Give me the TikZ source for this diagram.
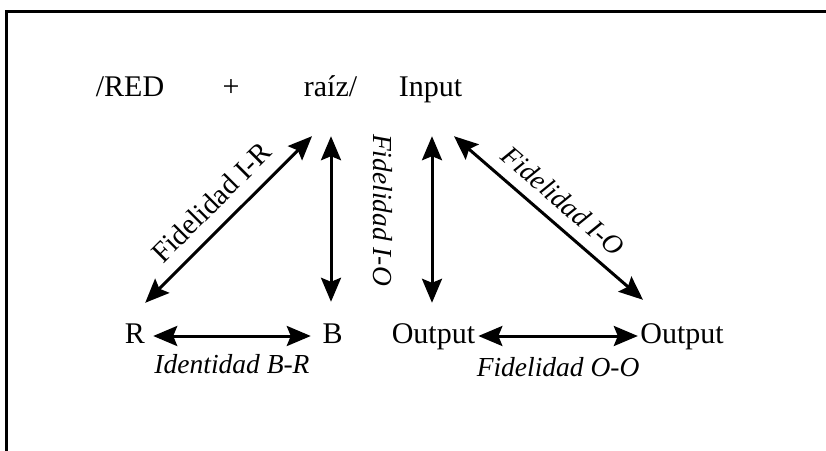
\documentclass[tikz,border=0pt]{standalone}
\usepackage{fontspec}
\setmainfont{Liberation Serif}
\usetikzlibrary{arrows.meta,positioning}

\tikzset{
	term/.style={font=\fontsize{30}{36}\selectfont, inner sep=1pt, text height=20pt, text depth=6pt, anchor=base},
	tag/.style={font=\fontsize{27.5}{33}\selectfont\itshape, inner sep=1pt, text height=20pt, text depth=6pt},
	tagup/.style={tag, font=\fontsize{29}{35}\selectfont},
	biarrow/.style={line width=3pt, {Stealth[length=24pt,width=20pt,inset=4pt]}-{Stealth[length=24pt,width=20pt,inset=4pt]}},
}

\begin{document}
\begin{tikzpicture}[x=1pt,y=1pt]
	\useasboundingbox (0,0) rectangle (826,450);
	% open frame, runs off the page
	\draw[line width=3pt] (6,-10) |- (840,438.5);

	% top row
	\node[term] (red) at (130,353) {/RED};
	\node[term] (plus) at (231,353) {+};
	\node[term] (raiz) at (330.5,353) {raíz/};
	\node[term] (input) at (430.5,353) {Input};

	% bottom row
	\node[term] (R) at (135,107) {R};
	\node[term] (B) at (332.5,107) {B};
	\node[term] (outL) at (433.5,107) {Output};
	\node[term] (outR) at (682,107) {Output};

	\draw[biarrow] ([shift={(-1,19)}]R.north east) -- ([shift={(-18.5,-32)}]raiz.south)
		node[midway, sloped, above=6pt, tagup] {Fidelidad I-R};
	\draw[biarrow] ([shift={(0.5,-32)}]raiz.south) -- ([shift={(-1.5,20)}]B.north);
	\draw[biarrow] ([xshift=7pt]R.east) -- ([xshift=-10.5pt]B.west)
		node[midway, below=15pt, tag] {Identidad B-R};

	\draw[biarrow] ([shift={(1.5,-32)}]input.south) -- ([shift={(-1.5,19)}]outL.north);
	\node[tag, rotate=-90] (io) at (380,240) {Fidelidad I-O};
	\draw[biarrow] ([shift={(23.5,-32)}]input.south) -- ([shift={(-39,22)}]outR.north)
		node[midway, sloped, above=5pt, tag] {Fidelidad I-O};
	\draw[biarrow] ([xshift=2pt]outL.east) -- ([xshift=-1.3pt]outR.west)
		node[midway, below=18pt, tag] {Fidelidad O-O};
\end{tikzpicture}
\end{document}
